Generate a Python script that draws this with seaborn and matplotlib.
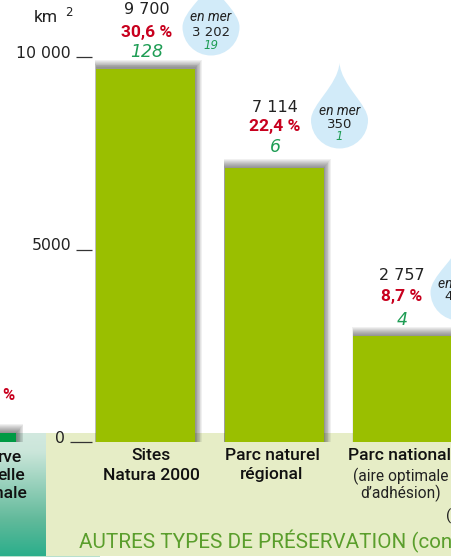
import numpy as np
import pandas as pd
import matplotlib
matplotlib.use("Agg")
import matplotlib.pyplot as plt
from matplotlib.patches import Rectangle, PathPatch
from matplotlib.path import Path
import seaborn as sns

categories = ["Sites\nNatura 2000", "Parc naturel\nrégional", "Parc national"]
surfaces = [9700, 7114, 2757]
surface_labels = ["9 700", "7 114", "2 757"]
percent_labels = ["30,6 %", "22,4 %", "8,7 %"]
count_labels = ["128", "6", "4"]
sea_surfaces = ["3 202", "350", "4"]
sea_counts = ["19", "1", ""]
reserve_value = 230
y_ticks = [0, 5000, 10000]
y_tick_labels = ["0", "5000", "10 000"]

W, H = 451, 557
sns.set_theme(style="white")
plt.rcParams["font.family"] = ["Roboto", "DejaVu Sans"]
NUM = ["DejaVu Sans"]
fig = plt.figure(figsize=(W / 100, H / 100), dpi=100, facecolor="white")
ax = fig.add_axes([0, 0, 1, 1])

py = 0.0385
y0 = 442
x0, step = 145.5, 128.7
def limits():
    ax.set_xlim((0 - x0) / step, (W - x0) / step)
    ax.set_ylim((y0 - H) / py, y0 / py)
limits()
px = lambda p: (p - x0) / step
pyv = lambda p: (y0 - p) / py

# backgrounds
ax.add_patch(Rectangle((px(46), pyv(556)), px(451) - px(46), pyv(433) - pyv(556),
                       fc="#e6edc6", ec="none", zorder=0))
grad = np.linspace(0, 1, 256)[:, None]
cmap = matplotlib.colors.LinearSegmentedColormap.from_list(
    "g", [(0, "#d2e9df"), (0.15, "#cbe6da"), (0.7, "#62ba9b"), (1, "#2bae8b")])
ax.imshow(grad, cmap=cmap, aspect="auto", zorder=0,
          extent=(px(0), px(46), pyv(556), pyv(433)))
ax.add_patch(Rectangle((px(0), pyv(557)), px(100) - px(0), pyv(556) - pyv(557),
                       fc="#b7e0cd", ec="none", zorder=0))
limits()

# bars
df = pd.DataFrame({"type": categories, "km2": surfaces})
sns.barplot(data=df, x="type", y="km2", color="#9abf00", saturation=1,
            width=99 / step, ax=ax, zorder=3, linewidth=0, edgecolor="none")
limits()
main_bars = [b for b in ax.patches if b.get_facecolor()[2] == 0]
reserve = ax.bar(px(-33), reserve_value, width=99 / step, color="#009a44", zorder=3, linewidth=0)
limits()

# soft shadow behind each bar, spreading up and to the right
for bar in main_bars + list(reserve):
    bx, bw, bh = bar.get_x(), bar.get_width(), bar.get_height()
    for f in np.linspace(1, 0.12, 9):
        left = bx - 1 * f / step
        right = bx + bw + 7 * f / step
        top = bh + 9 * f / py
        ax.add_patch(Rectangle((left, 0), right - left, top, fc="#222222", ec="none",
                               alpha=0.065, zorder=1.5))
limits()

# y ticks as short lines
tick_starts = [70, 76, 76]
for t, lab, s in zip(y_ticks, y_tick_labels, tick_starts):
    ax.plot([px(s), px(92)], [t, t], color="#333333", lw=0.9, zorder=4, solid_capstyle="butt")
    ax.text(px(s - 5), t + 100, lab, ha="right", va="center", fontsize=11.3, color="#222222",
            zorder=5, family=NUM)
ax.text(px(34), pyv(17), "km", fontsize=12.5, color="#222222", ha="left", va="center")
ax.text(px(65), pyv(13), "2", fontsize=8.5, color="#222222", ha="left", va="center", family=NUM)

# value labels
centers = [147, 275, 402]
rows = [(10, 32, 52), (107, 127, 147), (276, 296, 320)]
for c, r, s, p, n in zip(centers, rows, surface_labels, percent_labels, count_labels):
    ax.text(px(c), pyv(r[0]), s, ha="center", va="center", fontsize=11.5, color="#222222", family=NUM)
    ax.text(px(c), pyv(r[1]), p, ha="center", va="center", fontsize=12.5, color="#c8001e", weight="bold")
    ax.text(px(c), pyv(r[2]), n, ha="center", va="center", fontsize=12.5, color="#1f9d55",
            style="italic", family=NUM)

# drops
def drop(cx, cy, r, tip):
    k = 0.5523 * r
    verts = [(cx, tip), (cx + 2, cy - r * 1.2), (cx + r, cy - k), (cx + r, cy),
             (cx + r, cy + k), (cx + k, cy + r), (cx, cy + r),
             (cx - k, cy + r), (cx - r, cy + k), (cx - r, cy),
             (cx - r, cy - k), (cx - 2, cy - r * 1.2), (cx, tip), (cx, tip)]
    codes = [Path.MOVETO] + [Path.CURVE4] * 12 + [Path.CLOSEPOLY]
    verts = [(px(x), pyv(y)) for x, y in verts]
    ax.add_patch(PathPatch(Path(verts, codes), fc="#d2ebf9", ec="none", zorder=2))

drops = [(211, 27, 28.5, -20, 211, (17, 32, 45)),
         (339.5, 120, 28.5, 63, 339.5, (111, 124, 137)),
         (459, 292, 28.5, 243, 449, (284, 297, 310))]
for (cx, cy, r, tip, tx, ys), s, n in zip(drops, sea_surfaces, sea_counts):
    drop(cx, cy, r, tip)
    ax.text(px(cx), pyv(ys[0]), "en mer", ha="center", va="center", fontsize=10, style="italic",
            color="#222222", zorder=5)
    ax.text(px(tx), pyv(ys[1]), s, ha="center", va="center", fontsize=9.5, color="#222222",
            zorder=5, family=NUM)
    ax.text(px(tx), pyv(ys[2]), n, ha="center", va="center", fontsize=8.5, style="italic",
            color="#1f9d55", zorder=5, family=NUM)

# category labels
for c, y, t in [(151, 456, "Sites"), (151, 475, "Natura 2000"), (272, 456, "Parc naturel"),
                (272, 475, "régional"), (400, 456, "Parc national")]:
    ax.text(px(c), pyv(y), t, ha="center", va="center", fontsize=12.6, weight="medium",
            color="#111111", zorder=5)
ax.text(px(401), pyv(476), "(aire optimale", ha="center", va="center", fontsize=11.2, color="#222222", zorder=5)
ax.text(px(401), pyv(493), "d’adhésion)", ha="center", va="center", fontsize=11.2, color="#222222", zorder=5)
ax.text(px(446), pyv(516), "(", ha="left", va="center", fontsize=11, color="#222222", zorder=5)
for y, t, xr in [(457, "rve", 22), (476, "elle", 25), (494, "nale", 27)]:
    ax.text(px(xr), pyv(y), t, ha="right", va="center", fontsize=12.6, weight="medium",
            color="#111111", zorder=5)
ax.text(px(15), pyv(396), "%", ha="right", va="center", fontsize=12, weight="bold", color="#c8001e", zorder=5)
ax.text(px(79), pyv(541), "AUTRES TYPES DE PRÉSERVATION (con", ha="left", va="center",
        fontsize=14.85, color="#5a9e2c", zorder=5)

ax.set_xlabel(""); ax.set_ylabel("")
ax.set_xticks([]); ax.set_yticks([])
sns.despine(ax=ax, left=True, bottom=True)
fig.savefig("out.png", dpi=100, facecolor="white")
